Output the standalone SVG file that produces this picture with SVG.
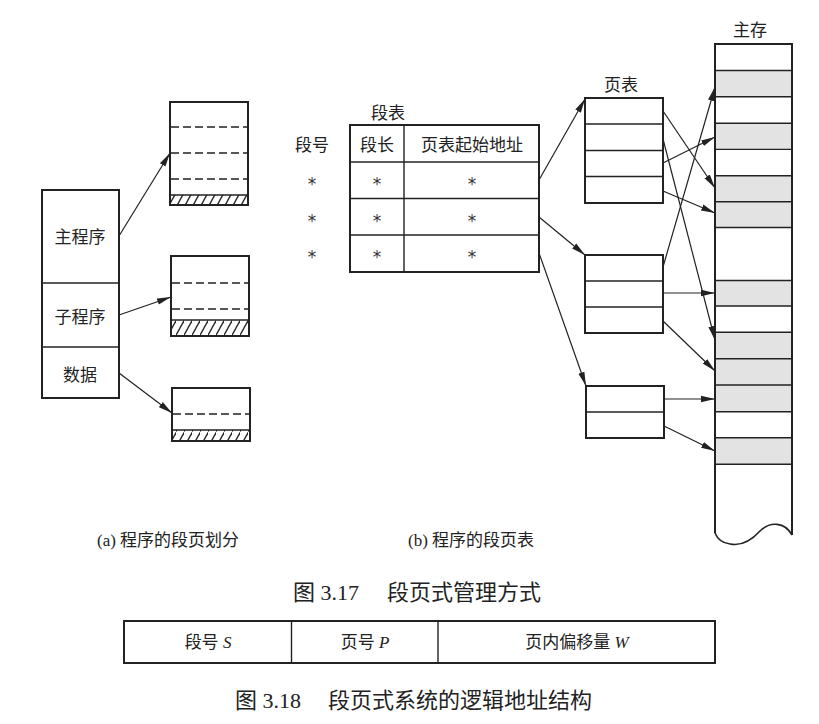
<svg xmlns="http://www.w3.org/2000/svg" width="819" height="724" viewBox="0 0 819 724">
<style>
text{font-family:"Liberation Serif","Noto Sans CJK SC",serif;fill:#222;}
.t{font-size:17px;text-anchor:middle;}
.st{font-family:"DejaVu Sans",sans-serif;font-size:17px;text-anchor:middle;fill:#333;}
.sub{font-size:17px;}
.cap{font-size:22px;}
.box{fill:#fff;stroke:#222;stroke-width:2;}
.ln{stroke:#222;stroke-width:1.4;fill:none;}
.dash{stroke:#222;stroke-width:1.4;stroke-dasharray:8 4;fill:none;}
.gray{fill:#e3e3e3;stroke:none;}
.arr{stroke:#222;stroke-width:1.2;fill:none;marker-end:url(#ah);}
</style>
<defs>
<marker id="ah" markerUnits="userSpaceOnUse" viewBox="0 0 14 8" refX="14" refY="4" markerWidth="14" markerHeight="8" orient="auto">
<path d="M0,0.8 L14,4 L0,7.2 z" fill="#222"/>
</marker>
<pattern id="hatch" patternUnits="userSpaceOnUse" width="8" height="16">
<path d="M-1,17 L9,-1" stroke="#222" stroke-width="1.3"/>
</pattern>
</defs>

<!-- (a) program -->
<g id="program">
<rect class="box" x="42" y="190" width="77" height="208"/>
<line class="ln" x1="42" y1="283" x2="119" y2="283"/>
<line class="ln" x1="42" y1="347" x2="119" y2="347"/>
<text class="t" x="80" y="243">主程序</text>
<text class="t" x="80" y="323">子程序</text>
<text class="t" x="80" y="381">数据</text>
</g>

<g id="segA">
<rect class="box" x="170" y="102" width="78" height="103"/>
<line class="dash" x1="171" y1="127" x2="247" y2="127"/>
<line class="dash" x1="171" y1="153" x2="247" y2="153"/>
<line class="dash" x1="171" y1="179" x2="247" y2="179"/>
<rect x="171" y="195" width="76" height="10" fill="url(#hatch)"/>
<line class="ln" x1="171" y1="195" x2="247" y2="195"/>
<rect x="170" y="102" width="78" height="103" fill="none" stroke="#222" stroke-width="2"/>
</g>

<g id="segB">
<rect class="box" x="171" y="256" width="78" height="80"/>
<line class="dash" x1="172" y1="283" x2="248" y2="283"/>
<line class="dash" x1="172" y1="309" x2="248" y2="309"/>
<rect x="172" y="320" width="76" height="16" fill="url(#hatch)"/>
<line class="ln" x1="172" y1="320" x2="248" y2="320"/>
<rect x="171" y="256" width="78" height="80" fill="none" stroke="#222" stroke-width="2"/>
</g>

<g id="segC">
<rect class="box" x="172" y="388" width="78" height="53"/>
<line class="dash" x1="173" y1="414" x2="249" y2="414"/>
<rect x="173" y="430" width="76" height="11" fill="url(#hatch)"/>
<line class="ln" x1="173" y1="430" x2="249" y2="430"/>
<rect x="172" y="388" width="78" height="53" fill="none" stroke="#222" stroke-width="2"/>
</g>

<!-- (b) segment table -->
<g id="segtable">
<text class="t" x="388" y="119">段表</text>
<text class="t" x="312" y="151">段号</text>
<rect class="box" x="350" y="125" width="189" height="147"/>
<line class="ln" x1="404" y1="125" x2="404" y2="272"/>
<line class="ln" x1="350" y1="162" x2="539" y2="162"/>
<line class="ln" x1="350" y1="198.5" x2="539" y2="198.5"/>
<line class="ln" x1="350" y1="235" x2="539" y2="235"/>
<text class="t" x="377" y="151">段长</text>
<text class="t" x="472" y="151">页表起始地址</text>
<text class="st" x="312" y="190">*</text><text class="st" x="377" y="190">*</text><text class="st" x="472" y="190">*</text>
<text class="st" x="312" y="227">*</text><text class="st" x="377" y="227">*</text><text class="st" x="472" y="227">*</text>
<text class="st" x="312" y="263">*</text><text class="st" x="377" y="263">*</text><text class="st" x="472" y="263">*</text>
</g>

<!-- page tables -->
<g id="pt1">
<text class="t" x="621" y="91">页表</text>
<rect class="box" x="585" y="98" width="78" height="105"/>
<line class="ln" x1="585" y1="124" x2="663" y2="124"/>
<line class="ln" x1="585" y1="150.5" x2="663" y2="150.5"/>
<line class="ln" x1="585" y1="176.5" x2="663" y2="176.5"/>
</g>
<g id="pt2">
<rect class="box" x="585" y="255" width="78" height="78"/>
<line class="ln" x1="585" y1="281" x2="663" y2="281"/>
<line class="ln" x1="585" y1="307" x2="663" y2="307"/>
</g>
<g id="pt3">
<rect class="box" x="586" y="386" width="78" height="52"/>
<line class="ln" x1="586" y1="412" x2="664" y2="412"/>
</g>

<!-- main memory -->
<g id="memory">
<text class="t" x="750" y="36">主存</text>
<path d="M715,44 L792,44 L792,535 C785,522 770,521 760,531 C750,542 740,546 730,544 C722,543 717,538 715,533 Z" fill="#fff" stroke="none"/>
<rect class="gray" x="715" y="70.5" width="77" height="26.3"/>
<rect class="gray" x="715" y="123.2" width="77" height="26.2"/>
<rect class="gray" x="715" y="175.7" width="77" height="51.8"/>
<rect class="gray" x="715" y="280.5" width="77" height="25.5"/>
<rect class="gray" x="715" y="332.3" width="77" height="79.4"/>
<rect class="gray" x="715" y="437.7" width="77" height="26.6"/>
<g class="ln" stroke-width="1.6">
<line x1="715" y1="70.5" x2="792" y2="70.5"/>
<line x1="715" y1="96.8" x2="792" y2="96.8"/>
<line x1="715" y1="123.2" x2="792" y2="123.2"/>
<line x1="715" y1="149.4" x2="792" y2="149.4"/>
<line x1="715" y1="175.7" x2="792" y2="175.7"/>
<line x1="715" y1="201.8" x2="792" y2="201.8"/>
<line x1="715" y1="227.5" x2="792" y2="227.5"/>
<line x1="715" y1="280.5" x2="792" y2="280.5"/>
<line x1="715" y1="306" x2="792" y2="306"/>
<line x1="715" y1="332.3" x2="792" y2="332.3"/>
<line x1="715" y1="358.7" x2="792" y2="358.7"/>
<line x1="715" y1="385" x2="792" y2="385"/>
<line x1="715" y1="411.7" x2="792" y2="411.7"/>
<line x1="715" y1="437.7" x2="792" y2="437.7"/>
<line x1="715" y1="464.3" x2="792" y2="464.3"/>
</g>
<path d="M715,533 L715,44 L792,44 L792,535" fill="none" stroke="#222" stroke-width="2"/>
<path d="M715,533 C717,538 722,543 730,544 C740,546 750,542 760,531 C770,521 785,522 792,535" fill="none" stroke="#222" stroke-width="1.6"/>
</g>

<!-- connectors -->
<g id="connectors">
<line class="arr" x1="119" y1="236" x2="170" y2="153"/>
<line class="arr" x1="119" y1="315" x2="171" y2="297"/>
<line class="arr" x1="119" y1="373" x2="172" y2="413"/>
<line class="arr" x1="539" y1="180" x2="585" y2="99"/>
<line class="arr" x1="539" y1="217" x2="585" y2="255"/>
<line class="arr" x1="539" y1="253" x2="586" y2="386"/>
<line class="arr" x1="663" y1="111" x2="715" y2="188"/>
<line class="arr" x1="663" y1="139" x2="715" y2="340"/>
<line class="arr" x1="663" y1="163" x2="715" y2="137"/>
<line class="arr" x1="663" y1="191" x2="715" y2="213"/>
<line class="arr" x1="663" y1="267" x2="715" y2="87"/>
<line class="arr" x1="663" y1="293" x2="715" y2="293"/>
<line class="arr" x1="663" y1="321" x2="715" y2="371"/>
<line class="arr" x1="664" y1="399" x2="715" y2="399"/>
<line class="arr" x1="664" y1="426" x2="715" y2="451"/>
</g>

<!-- captions -->
<g id="captions">
<text class="sub" x="97" y="546">(a) 程序的段页划分</text>
<text class="sub" x="408" y="546">(b) 程序的段页表</text>
<text class="cap" x="293" y="600">图 3.17</text>
<text class="cap" x="387" y="600">段页式管理方式</text>
<text class="cap" x="235" y="708">图 3.18</text>
<text class="cap" x="328" y="708">段页式系统的逻辑地址结构</text>
</g>

<!-- logical address structure -->
<g id="addr">
<rect x="124" y="621" width="591" height="42" fill="#fff" stroke="#222" stroke-width="2"/>
<line class="ln" x1="291.5" y1="621" x2="291.5" y2="663"/>
<line class="ln" x1="438" y1="621" x2="438" y2="663"/>
<text class="t" x="208" y="648">段号 <tspan font-style="italic">S</tspan></text>
<text class="t" x="365" y="648">页号 <tspan font-style="italic">P</tspan></text>
<text class="t" x="577" y="648">页内偏移量 <tspan font-style="italic">W</tspan></text>
</g>
</svg>
